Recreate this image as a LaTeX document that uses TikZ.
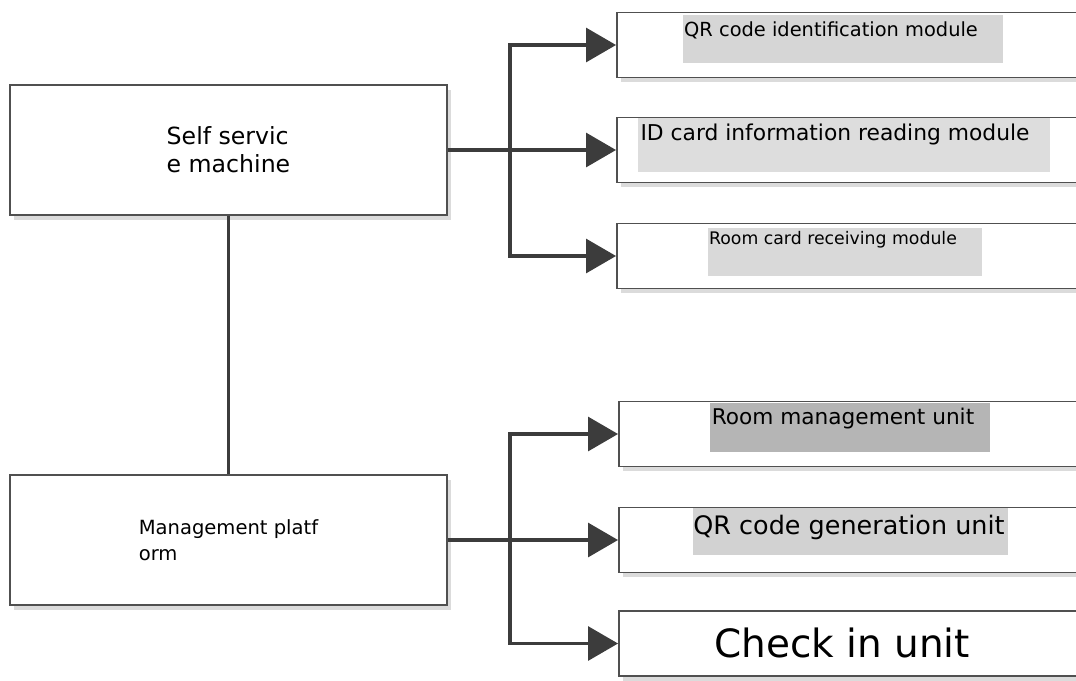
\documentclass[tikz,border=0pt]{standalone}
\usepackage{fontspec}
\setmainfont{DejaVu Sans}
\usetikzlibrary{arrows.meta,shadows}
\definecolor{edgegray}{HTML}{505050}
\definecolor{flowgray}{HTML}{3C3C3C}
\tikzset{
  mainbox/.style={draw=edgegray, line width=1.3pt, fill=white, align=left,
    minimum width=10.925cm, minimum height=3.25cm,
    drop shadow={shadow xshift=0.09cm, shadow yshift=-0.12cm, fill=black!40, opacity=0.35}},
  unitbox/.style={draw=edgegray, line width=1.3pt, fill=white,
    minimum width=12.1cm, minimum height=1.625cm,
    drop shadow={shadow xshift=0.09cm, shadow yshift=-0.12cm, fill=black!40, opacity=0.35}},
  unittext/.style={inner sep=0pt},
  flow/.style={draw=flowgray, line width=2.2pt},
}
\begin{document}
\begin{tikzpicture}[x=0.025cm, y=-0.025cm, >={Triangle[length=0.75cm,width=0.85cm]}]
    \useasboundingbox (0,0) rectangle (1076,680);
    \clip (0,0) rectangle (1076,680);
    % main parts
    \node[mainbox, font=\fontsize{16.8}{20}\selectfont] (kiosk) at (228.5,150) {Self servic\\e machine};
    \node[mainbox, font=\fontsize{13.9}{18.5}\selectfont] (platform) at (228.5,540) {Management platf\\orm};
    \draw[flow, line width=2pt] (kiosk) -- (platform);
    % modules of the machine
    \node[unitbox] (qrread) at (859,45) {};
    \node[unitbox] (idread) at (859,150) {};
    \node[unitbox] (cardrecv) at (859,256) {};
    \fill[gray!32] (683,15) rectangle (1003,63);
    \fill[gray!27] (638,118) rectangle (1050,172);
    \fill[gray!30] (708,228) rectangle (982,276);
    \node[unittext, font=\fontsize{13.8}{16}\selectfont] (qrreadtxt) at (831,30) {QR code identification module};
    \node[unittext, font=\fontsize{15.5}{18}\selectfont] (idreadtxt) at (835,134) {ID card information reading module};
    \node[unittext, font=\fontsize{12.3}{15}\selectfont] (cardrecvtxt) at (833,240) {Room card receiving module};
    % units of the platform
    \node[unitbox] (roommgmt) at (861,434) {};
    \node[unitbox] (qrgen) at (861,540) {};
    \node[unitbox] (checkin) at (861,643.5) {};
    \fill[gray!58] (710,403) rectangle (990,452);
    \fill[gray!35] (693,508) rectangle (1008,555);
    \node[unittext, font=\fontsize{15.4}{18}\selectfont] (roommgmttxt) at (843,419) {Room management unit};
    \node[unittext, font=\fontsize{18.1}{21}\selectfont] (qrgentxt) at (849,527) {QR code generation unit};
    \node[unittext, font=\fontsize{27.7}{32}\selectfont] (checkintxt) at (842,643) {Check in unit};
    % connectors
    \coordinate (kj) at (510,150);
    \coordinate (pj) at (510,540);
    \draw[flow, line width=2.8pt] (kiosk.east) -- (kj);
    \draw[flow, ->] (kj) -- (idread.west);
    \draw[flow, ->] (kj) |- (qrread.west);
    \draw[flow, ->] (kj) |- (cardrecv.west);
    \draw[flow, line width=2.8pt] (platform.east) -- (pj);
    \draw[flow, ->] (pj) -- (qrgen.west);
    \draw[flow, ->] (pj) |- (roommgmt.west);
    \draw[flow, ->] (pj) |- (checkin.west);
\end{tikzpicture}
\end{document}
